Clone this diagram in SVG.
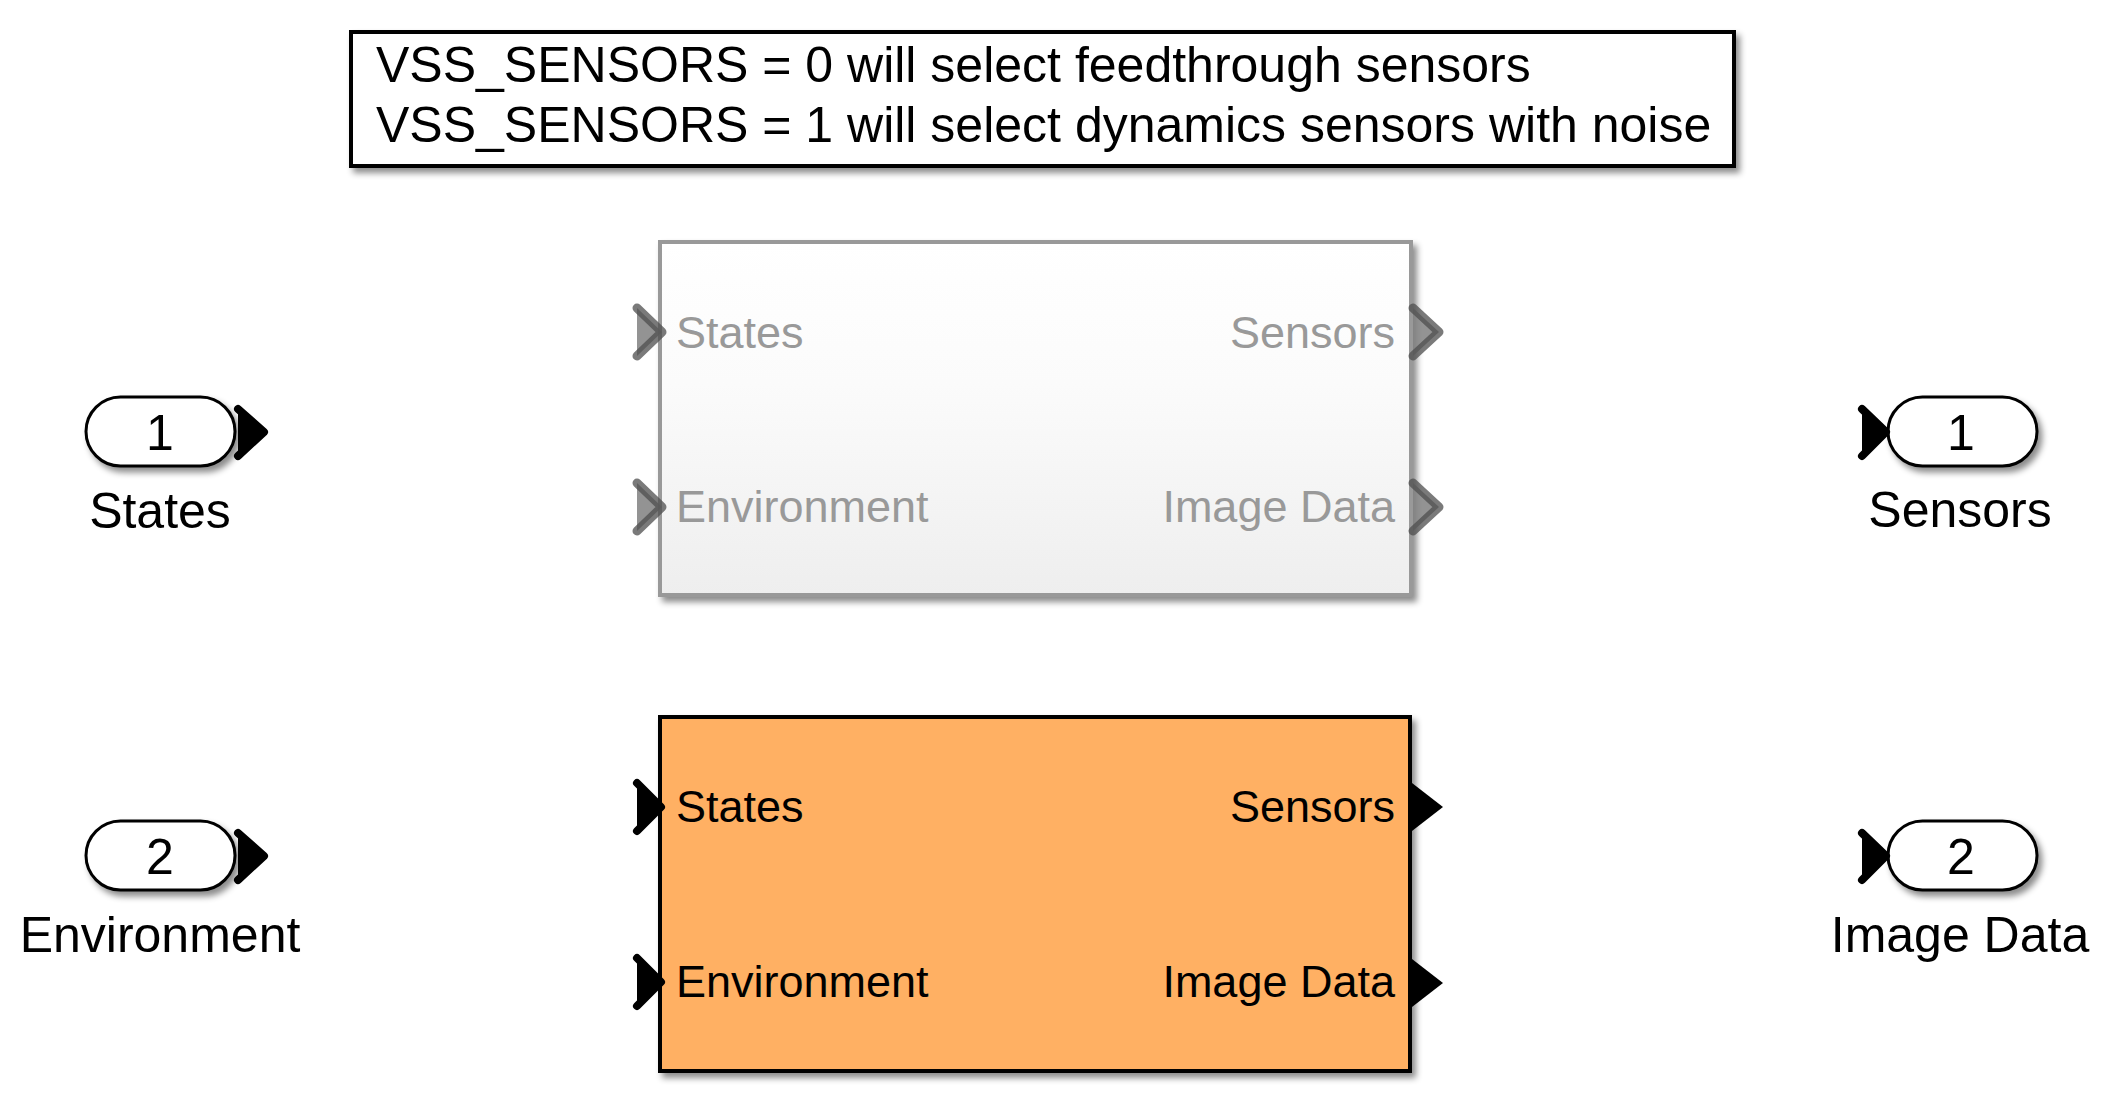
<svg xmlns="http://www.w3.org/2000/svg" width="2104" height="1114" viewBox="0 0 2104 1114">
<style>
  text { font-family: "Liberation Sans", Arial, sans-serif; }
  .lbl { font-size: 50px; fill: #000; }
  .plbl { font-size: 45px; fill: #000; }
  .glbl { font-size: 45px; fill: #999999; }
  .pill { fill: #fff; stroke: #000; stroke-width: 3; }
  .chev { fill: #000; stroke: #000; stroke-width: 8; stroke-linejoin: round; stroke-linecap: round; }
  .gchev { fill: #808080; fill-opacity: 0.85; stroke: #4d4d4d; stroke-opacity: 0.75; stroke-width: 9; stroke-linejoin: round; stroke-linecap: round; }
</style>
<defs>
  <filter id="sh" x="-10%" y="-10%" width="120%" height="130%">
    <feDropShadow dx="4" dy="5" stdDeviation="3" flood-color="#000" flood-opacity="0.45"/>
  </filter>
  <linearGradient id="gg" x1="0" y1="0" x2="0" y2="1">
    <stop offset="0" stop-color="#ffffff"/>
    <stop offset="0.4" stop-color="#fbfbfb"/>
    <stop offset="1" stop-color="#eeeeee"/>
  </linearGradient>
</defs>
<rect width="2104" height="1114" fill="#fff"/>

<g id="annotation">
  <rect x="351" y="32" width="1383" height="134" fill="#fff" stroke="#000" stroke-width="4" filter="url(#sh)"/>
  <text class="lbl" x="376" y="82">VSS_SENSORS = 0 will select feedthrough sensors</text>
  <text class="lbl" x="376" y="142">VSS_SENSORS = 1 will select dynamics sensors with noise</text>
</g>

<g id="inactive_variant">
  <rect x="660" y="242" width="751" height="353" fill="url(#gg)" stroke="#999999" stroke-width="4" filter="url(#sh)"/>
  <path class="gchev" d="M637 308 L662 332 L637 356"/>
  <path class="gchev" d="M637 483 L662 507 L637 531"/>
  <path class="gchev" d="M1413 308 L1439 332 L1413 356"/>
  <path class="gchev" d="M1413 483 L1439 507 L1413 531"/>
  <text class="glbl" x="676" y="348">States</text>
  <text class="glbl" x="676" y="522">Environment</text>
  <text class="glbl" x="1395" y="348" text-anchor="end">Sensors</text>
  <text class="glbl" x="1395" y="522" text-anchor="end">Image Data</text>
</g>

<g id="active_variant">
  <rect x="660" y="717" width="750" height="354" fill="#ffb063" stroke="#000" stroke-width="4" filter="url(#sh)"/>
  <path class="chev" d="M637 783 L661 807 L637 831"/>
  <path class="chev" d="M637 958 L661 982 L637 1006"/>
  <path d="M1412 783 L1443 807 L1412 831 Z" fill="#000"/>
  <path d="M1412 959 L1443 983 L1412 1007 Z" fill="#000"/>
  <text class="plbl" x="676" y="822">States</text>
  <text class="plbl" x="676" y="997">Environment</text>
  <text class="plbl" x="1395" y="822" text-anchor="end">Sensors</text>
  <text class="plbl" x="1395" y="997" text-anchor="end">Image Data</text>
</g>

<g id="inport1">
  <rect class="pill" x="86" y="397" width="149" height="69" rx="34.5" filter="url(#sh)"/>
  <path class="chev" d="M238 409 L264 432 L238 456"/>
  <text class="lbl" x="160" y="450" text-anchor="middle">1</text>
  <text class="lbl" x="160" y="528" text-anchor="middle">States</text>
</g>

<g id="inport2">
  <rect class="pill" x="86" y="821" width="149" height="69" rx="34.5" filter="url(#sh)"/>
  <path class="chev" d="M238 833 L264 856 L238 880"/>
  <text class="lbl" x="160" y="874" text-anchor="middle">2</text>
  <text class="lbl" x="160" y="952" text-anchor="middle">Environment</text>
</g>

<g id="outport1">
  <rect class="pill" x="1888" y="397" width="149" height="69" rx="34.5" filter="url(#sh)"/>
  <path class="chev" d="M1862 409 L1886 432 L1862 456"/>
  <text class="lbl" x="1961" y="450" text-anchor="middle">1</text>
  <text class="lbl" x="1960" y="527" text-anchor="middle">Sensors</text>
</g>

<g id="outport2">
  <rect class="pill" x="1888" y="821" width="149" height="69" rx="34.5" filter="url(#sh)"/>
  <path class="chev" d="M1862 833 L1886 856 L1862 880"/>
  <text class="lbl" x="1961" y="874" text-anchor="middle">2</text>
  <text class="lbl" x="1960" y="952" text-anchor="middle">Image Data</text>
</g>

<g id="connectors"></g>
</svg>
